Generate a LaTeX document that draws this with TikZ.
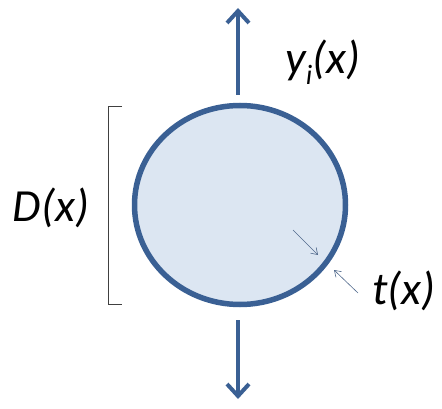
\documentclass[tikz,border=0pt]{standalone}
\usepackage{fontspec}
\setmainfont{Carlito}
\usetikzlibrary{arrows.meta,positioning,shapes.geometric}
\definecolor{pipeB}{RGB}{58,96,148}
\definecolor{pipeF}{RGB}{220,230,242}
\definecolor{thinB}{RGB}{80,105,140}

\begin{document}
\begin{tikzpicture}[x=1pt, y=-1pt, font=\fontsize{46}{50}\selectfont\itshape,
  flow/.style={draw=pipeB, line width=4pt, -{Straight Barb[length=12pt, width=22pt, line width=4pt]}},
  pipe/.style={ellipse, draw=pipeB, fill=pipeF, line width=5.5pt, minimum width=211pt, minimum height=199pt, inner sep=0pt},
  thin/.style={draw=thinB, line width=0.6pt, -{Straight Barb[length=6pt, width=8pt]}}]
  \useasboundingbox (0,0) rectangle (442,409);
  \node[pipe] (P) at (240,205) {};
  % flow in and out
  \coordinate (top0) at (238,95);  \coordinate (top1) at (238,8);
  \coordinate (bot0) at (238,320); \coordinate (bot1) at (238,399);
  \draw[flow] (top0) -- (top1);
  \draw[flow] (bot0) -- (bot1);
  \node (y) at (323,62) {y\textsubscript{\fontsize{28}{30}\selectfont i}(x)};
  % diameter
  \coordinate (b1) at (122,106); \coordinate (b2) at (122,304);
  \draw[black!75, line width=0.8pt] (b1) -- ++(-14,0) -- ++(0,198) -- (b2);
  \node (D) at (51,208) {D(x)};
  % wall thickness
  \coordinate (t1) at (293,230); \coordinate (t2) at (318,255);
  \coordinate (t3) at (358,293); \coordinate (t4) at (334,270);
  \draw[thin] (t1) -- (t2);
  \draw[thin] (t3) -- (t4);
  \node (t) at (404,291) {t(x)};
\end{tikzpicture}
\end{document}
